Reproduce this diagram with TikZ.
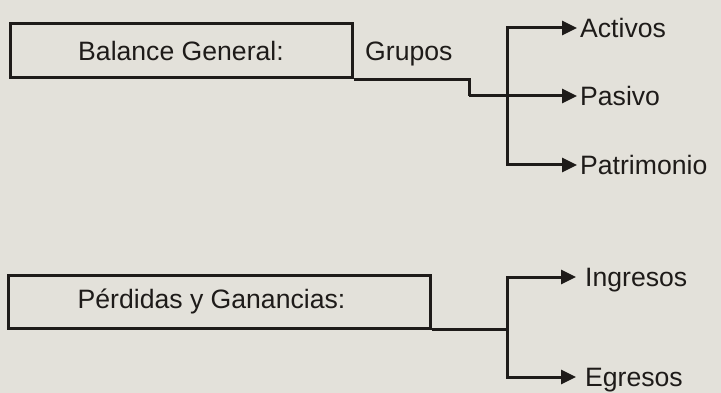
\documentclass[tikz,border=0pt]{standalone}
\usepackage{fontspec}
\setmainfont{Liberation Sans}
\usetikzlibrary{arrows.meta,positioning}

\definecolor{paper}{HTML}{E3E1DA}
\definecolor{ink}{HTML}{1E1B19}

\begin{document}
\begin{tikzpicture}
  [x=1pt,y=-1pt,>={Triangle[length=15pt,width=14pt]},
   font=\fontsize{26.6pt}{30pt}\selectfont,text=ink,
   box/.style={rectangle,draw=ink,line width=3pt,inner sep=0pt},
   leaf/.style={anchor=west,inner sep=0pt,text height=19pt,text depth=0pt},
   link/.style={draw=ink,line width=3pt}]

  \fill[paper] (0,0) rectangle (721,393);
  \useasboundingbox (0,0) rectangle (721,393);

  \begin{scope}
    % Balance General
    \node [box,minimum width=342,minimum height=54] (balance) at (181,51) {Balance General:};
    \node [leaf] (grupos) at (365,51) {Grupos};

    \node [leaf] (activos)    at (580,28)  {Activos};
    \node [leaf] (pasivo)     at (580,96)  {Pasivo};
    \node [leaf] (patrimonio) at (580,165) {Patrimonio};

    \coordinate (step) at (469,96);
    \coordinate (bus1) at (507,165);

    \draw [link] (balance.south east) -| (step);
    \draw [link,->,shorten >=3pt] (step) -- (pasivo.west);
    \draw [link,<->,shorten <=3pt,shorten >=3pt]
      (activos.west) -| (bus1) -- (patrimonio.west);
  \end{scope}

  \begin{scope}
    % Perdidas y Ganancias
    \node [box,minimum width=422,minimum height=53] (perdidas) at (219,301.5)
      {Pérdidas y Ganancias:\hspace*{15pt}};

    \node [leaf] (ingresos) at (585,277) {Ingresos};
    \node [leaf] (egresos)  at (585,377) {Egresos};

    \coordinate (bus2) at (507,377);

    \draw [link] (perdidas.south east) -- (perdidas.south east -| bus2);
    \draw [link,<->,shorten <=9pt,shorten >=9pt]
      (ingresos.west) -| (bus2) -- (egresos.west);
  \end{scope}

\end{tikzpicture}
\end{document}
